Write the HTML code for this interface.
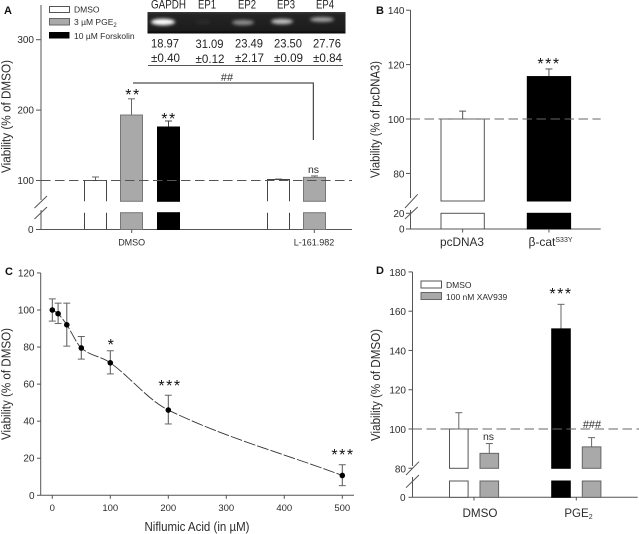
<!DOCTYPE html>
<html lang="en">
<head>
<meta charset="utf-8">
<title>Viability panels</title>
<style>
html,body{margin:0;padding:0;background:#fff;width:639px;height:534px;overflow:hidden}
svg{display:block}
text{font-family:"Liberation Sans",sans-serif;fill:#2c2c2c}
.tick{font-size:10px;text-anchor:end}
.xt{font-size:9.5px;text-anchor:middle}
.letter{font-size:11px;font-weight:bold;fill:#111}
.star{font-size:16px;text-anchor:middle;letter-spacing:1.5px;fill:#111}
.gel{font-size:12px;fill:#222}
.leg{font-size:8.5px}
</style>
</head>
<body>
<svg id="figure" width="639" height="534" viewBox="0 0 639 534" xmlns="http://www.w3.org/2000/svg">
  <defs>
    <linearGradient id="gelBg" x1="0" y1="0" x2="0" y2="1">
      <stop offset="0" stop-color="#3a3a3a"/><stop offset="0.12" stop-color="#242424"/>
      <stop offset="0.85" stop-color="#1c1c1c"/><stop offset="1" stop-color="#050505"/>
    </linearGradient>
    <filter id="blur1" x="-40%" y="-80%" width="180%" height="260%"><feGaussianBlur stdDeviation="1.6"/></filter>
  </defs>

  <text class="letter" x="4" y="14">A</text>
  <text class="letter" x="376" y="14">B</text>
  <text class="letter" x="5" y="275">C</text>
  <text class="letter" x="376" y="274">D</text>

  <g>
    <rect x="147.5" y="12" width="198" height="21.5" fill="url(#gelBg)"/>
    <ellipse cx="163" cy="22" rx="12" ry="3.2" fill="#fff" filter="url(#blur1)"/>
    <ellipse cx="203" cy="22" rx="8" ry="2" fill="#2c2c2c" filter="url(#blur1)"/>
    <ellipse cx="243" cy="22.5" rx="11" ry="2.6" fill="#8e8e8e" filter="url(#blur1)"/>
    <ellipse cx="282" cy="21.5" rx="11" ry="2.6" fill="#c4c4c4" filter="url(#blur1)"/>
    <ellipse cx="322" cy="19.5" rx="12" ry="2.4" fill="#a4a4a4" filter="url(#blur1)"/>
  </g>
  <g>
    <text class="gel" x="151" y="8.5" textLength="35" lengthAdjust="spacingAndGlyphs">GAPDH</text>
    <text class="gel" x="198" y="8.5" textLength="18" lengthAdjust="spacingAndGlyphs">EP1</text>
    <text class="gel" x="238" y="8.5" textLength="18" lengthAdjust="spacingAndGlyphs">EP2</text>
    <text class="gel" x="277" y="8.5" textLength="18" lengthAdjust="spacingAndGlyphs">EP3</text>
    <text class="gel" x="316" y="8.5" textLength="18" lengthAdjust="spacingAndGlyphs">EP4</text>
    <text class="gel" x="151" y="47.5" textLength="28" lengthAdjust="spacingAndGlyphs">18.97</text>
    <text class="gel" x="195.5" y="48" textLength="28" lengthAdjust="spacingAndGlyphs">31.09</text>
    <text class="gel" x="235" y="47.5" textLength="28" lengthAdjust="spacingAndGlyphs">23.49</text>
    <text class="gel" x="274" y="47.5" textLength="28" lengthAdjust="spacingAndGlyphs">23.50</text>
    <text class="gel" x="313" y="47.5" textLength="28" lengthAdjust="spacingAndGlyphs">27.76</text>
    <text class="gel" x="151" y="62" textLength="29" lengthAdjust="spacingAndGlyphs">±0.40</text>
    <text class="gel" x="195.5" y="63" textLength="29" lengthAdjust="spacingAndGlyphs">±0.12</text>
    <text class="gel" x="235" y="62" textLength="29" lengthAdjust="spacingAndGlyphs">±2.17</text>
    <text class="gel" x="274" y="62" textLength="29" lengthAdjust="spacingAndGlyphs">±0.09</text>
    <text class="gel" x="313" y="62" textLength="29" lengthAdjust="spacingAndGlyphs">±0.84</text>
    <line x1="148" y1="65.5" x2="343" y2="65.5" stroke="#555" stroke-width="1"/>
  </g>

  <text transform="translate(10.5,173) rotate(-90)" font-size="12.5" textLength="113" lengthAdjust="spacingAndGlyphs">Viability (% of DMSO)</text>
  <text transform="translate(379.5,178) rotate(-90)" font-size="12.5" textLength="117" lengthAdjust="spacingAndGlyphs">Viability (% of pcDNA3)</text>
  <text transform="translate(10.5,440) rotate(-90)" font-size="12.5" textLength="112" lengthAdjust="spacingAndGlyphs">Viability (% of DMSO)</text>
  <text transform="translate(380,441) rotate(-90)" font-size="12.5" textLength="112" lengthAdjust="spacingAndGlyphs">Viability (% of DMSO)</text>
  <text x="197" y="531" font-size="12.5" text-anchor="middle" textLength="105" lengthAdjust="spacingAndGlyphs">Niflumic Acid (in µM)</text>

  <g>
    <rect x="49.5" y="6.5" width="20" height="6" fill="#fff" stroke="#555"/>
    <text class="leg" x="74" y="12.5">DMSO</text>
    <rect x="49.5" y="18.5" width="20" height="6.5" fill="#a9a9a9" stroke="#666"/>
    <text class="leg" x="74" y="25">3 µM PGE<tspan font-size="6" dy="2">2</tspan></text>
    <rect x="49" y="32" width="20.5" height="6.5" fill="#000"/>
    <text class="leg" x="74" y="39">10 µM Forskolin</text>
  </g>
  <g>
    <rect x="421" y="281" width="20.5" height="7" fill="#fff" stroke="#555"/>
    <text class="leg" x="446" y="288">DMSO</text>
    <rect x="421" y="292.5" width="20.5" height="7" fill="#a9a9a9" stroke="#666"/>
    <text class="leg" x="446" y="300">100 nM XAV939</text>
  </g>

  <g>
    <path d="M133 83H313.3V140" fill="none" stroke="#222" stroke-width="1"/>
    <text x="227" y="81" font-size="11" text-anchor="middle">##</text>
  </g>

  <text class="star" x="133" y="100">**</text>
  <text class="star" x="169" y="124">**</text>
  <text x="313.5" y="173" font-size="10.5" text-anchor="middle">ns</text>
  <text class="star" x="549" y="69">***</text>
  <text class="star" x="111.5" y="350">*</text>
  <text class="star" x="170" y="391">***</text>
  <text class="star" x="343" y="460">***</text>
  <text class="star" x="561" y="299">***</text>
  <text x="488.5" y="440" font-size="10.5" text-anchor="middle">ns</text>
  <text x="592" y="428" font-size="11" text-anchor="middle">###</text>

  <text x="462" y="246" font-size="12" text-anchor="middle" textLength="44" lengthAdjust="spacingAndGlyphs">pcDNA3</text>
  <text x="550.5" y="246" font-size="12" text-anchor="middle">β-cat<tspan font-size="7" dy="-4">S33Y</tspan></text>
  <text x="480" y="517" font-size="12" text-anchor="middle" textLength="35" lengthAdjust="spacingAndGlyphs">DMSO</text>
  <text x="578.5" y="517" font-size="11.5" text-anchor="middle">PGE<tspan font-size="7" dy="2">2</tspan></text>
  <text x="131.7" y="245.5" font-size="9" text-anchor="middle">DMSO</text>
  <text x="314" y="245.5" font-size="9" text-anchor="middle">L-161.982</text>
</svg>

<script>
// Panel A data
var aSeries = ['DMSO', 'PGE2', 'Forskolin', 'L161 DMSO', 'L161 PGE2'];
var aValues = [100, 193, 176, 101.5, 104.5];
var aErrors = [5, 23, 8.5, 0.6, 2];
var aTicks = [100, 200, 300];

// Panel B data
var bSeries = ['pcDNA3', 'beta-cat'];
var bValues = [100, 115.6];
var bErrors = [2.9, 2.8];
var bTicks = [80, 100, 120, 140];
var bLowTicks = [0, 20];

// Panel C data
var cDoses = [0, 10, 25, 50, 100, 200, 500];
var cMeans = [100, 98, 92, 79.5, 71.5, 46, 10.7];
var cUpper = [106, 103.7, 103.7, 85.7, 78, 54, 16.5];
var cLower = [94, 92.7, 80.5, 73.5, 65.5, 38.5, 5.2];
var cXTicks = [0, 100, 200, 300, 400, 500];
var cYTicks = [0, 20, 40, 60, 80, 100, 120];

// Panel D data
var dSeries = ['DMSO', 'DMSO XAV939', 'PGE2', 'PGE2 XAV939'];
var dValues = [100, 87.6, 151, 90.9];
var dErrors = [8.3, 5, 12.5, 4.7];
var dTicks = [80, 100, 120, 140, 160, 180];

var svg = document.getElementById('figure');
var NS = 'http://www.w3.org/2000/svg';
var AXIS = '#555';

function make(tag, attrs, txt) {
  var n = document.createElementNS(NS, tag);
  for (var k in attrs) n.setAttribute(k, attrs[k]);
  if (txt !== undefined) n.textContent = txt;
  svg.appendChild(n);
  return n;
}

function line(name, x1, y1, x2, y2, color, width, dash) {
  var n = make('line', {x1: x1, y1: y1, x2: x2, y2: y2, stroke: color || AXIS, 'stroke-width': width || 1});
  if (dash) n.setAttribute('stroke-dasharray', dash);
  
  
  return n;
}

function tickLabel(name, x, y, label) {
  var n = make('text', {x: x, y: y, 'class': 'tick'}, label);
  
  
  return n;
}

// Two-segment bar either side of an axis break
function brokenBar(name, x0, x1, topY, cfg, fill, stroke, openOutline) {
  var strokeCol = stroke || 'none';
  var up, low;
  if (openOutline) {
    up = make('path', {d: 'M' + x0 + ' ' + cfg.upperBottom + 'V' + topY + 'H' + x1 + 'V' + cfg.upperBottom, fill: fill, stroke: strokeCol});
    low = make('path', {d: 'M' + x0 + ' ' + cfg.lowerTop + 'V' + cfg.base + 'M' + x1 + ' ' + cfg.lowerTop + 'V' + cfg.base, fill: 'none', stroke: strokeCol});
  } else {
    up = make('rect', {x: x0, y: topY, width: x1 - x0, height: cfg.upperBottom - topY, fill: fill, stroke: strokeCol});
    low = make('rect', {x: x0, y: cfg.lowerTop, width: x1 - x0, height: cfg.base - cfg.lowerTop, fill: fill, stroke: strokeCol});
  }
  
  
  
  
}

function errorBar(name, x, yFrom, yTo, color) {
  line('error-stem-' + name, x, yFrom, x, yTo, color);
  line('error-cap-' + name, x - 3.5, yTo, x + 3.5, yTo, color);
}

function brokenAxis(prefix, x, top, upperEnd, lowerStart, base, xEnd, s1, s2) {
  line(prefix + '-y-axis-upper', x, top, x, upperEnd);
  line(prefix + '-y-axis-lower', x, lowerStart, x, base);
  line(prefix + '-x-axis', x, base, xEnd, base);
  line(prefix + '-axis-break-upper', s1[0], s1[1], s1[2], s1[3]);
  line(prefix + '-axis-break-lower', s2[0], s2[1], s2[2], s2[3]);
}

/* ---------- Panel A ---------- */
var aCfg = {upperBottom: 201.3, lowerTop: 212.7, base: 229.5};
function yA(v) { return 180.5 - (v - 100) * 0.704; }
var aBarLeft = [84.5, 120.5, 157.5, 267.5, 303.5];
var aBarW = 22;
var aFills = ['#fff', '#a9a9a9', '#000', '#fff', '#a9a9a9'];
var aStrokes = ['#444', '#777', '#000', '#444', '#777'];
brokenAxis('panel-a', 41, 5, 200, 210, 229.5, 352, [34.5, 208, 47, 196], [34.5, 219, 47, 207]);
aTicks.forEach(function (t) {
  line('panel-a-y-tick-' + t, 36, yA(t), 41, yA(t));
  tickLabel('panel-a-y-label-' + t, 34, yA(t) + 3.5, t);
});
line('panel-a-y-tick-0', 36, 229.5, 41, 229.5);
tickLabel('panel-a-y-label-0', 33.5, 233, 0);
aSeries.forEach(function (s, i) {
  var x0 = aBarLeft[i], x1 = x0 + aBarW, top = yA(aValues[i]), mid = x0 + aBarW / 2;
  errorBar('a-' + i, mid, top, yA(aValues[i] + aErrors[i]), aStrokes[i] === '#000' ? '#444' : '#666');
  brokenBar('a-' + i, x0, x1, top, aCfg, aFills[i], aStrokes[i], aFills[i] === '#fff');
});
line('panel-a-x-tick-dmso', 131.7, 229.5, 131.7, 233);
line('panel-a-x-tick-l161982', 314.3, 229.5, 314.3, 233);
line('panel-a-reference-line', 41, yA(100), 352, yA(100), '#555', 1, '9.5 4.5');

/* ---------- Panel B ---------- */
var bCfg = {upperBottom: 201, lowerTop: 213.3, base: 229};
function yB(v) { return 119 - (v - 100) * 2.72; }
function yBLow(v) { return 229 - v * 0.785; }
var bBarLeft = [441, 527.3];
var bBarW = 43.3;
var bFills = ['#fff', '#000'];
var bStrokes = ['#555', '#000'];
brokenAxis('panel-b', 410.5, 10, 198, 210, 229, 600.7, [405, 208, 417.7, 194.3], [405, 219, 417.7, 207]);
bTicks.forEach(function (t) {
  line('panel-b-y-tick-' + t, 406, yB(t), 410.5, yB(t));
  tickLabel('panel-b-y-label-' + t, 404.5, yB(t) + 4, t);
});
bLowTicks.forEach(function (t) {
  line('panel-b-y-tick-' + t, 406, yBLow(t), 410.5, yBLow(t));
  tickLabel('panel-b-y-label-' + t, 404.5, yBLow(t) + 3.5, t);
});
bSeries.forEach(function (s, i) {
  var x0 = bBarLeft[i], x1 = x0 + bBarW, top = yB(bValues[i]), mid = x0 + bBarW / 2;
  errorBar('b-' + i, mid, top, yB(bValues[i] + bErrors[i]), '#555');
  brokenBar('b-' + i, x0, x1, top, bCfg, bFills[i], bStrokes[i], false);
  line('panel-b-x-tick-' + i, mid, 229, mid, 232.5);
});
line('panel-b-reference-line', 410.5, yB(100), 600.7, yB(100), '#666', 1, '9.5 4.5');

/* ---------- Panel C ---------- */
function xC(v) { return 52.3 + v * 0.58; }
function yC(v) { return 495.3 - v * 1.853; }
line('panel-c-y-axis', 40.7, yC(120), 40.7, yC(0));
line('panel-c-x-axis', 40.7, yC(0), 354, yC(0));
cYTicks.forEach(function (t) {
  line('panel-c-y-tick-' + t, 37, yC(t), 40.7, yC(t));
  tickLabel('panel-c-y-label-' + t, 34.5, yC(t) + 3.5, t);
});
cXTicks.forEach(function (t) {
  line('panel-c-x-tick-' + t, xC(t), yC(0), xC(t), yC(0) + 3.5);
  var lab = make('text', {x: xC(t), y: 511, 'class': 'xt'}, t);
  
  
});
var curve = 'M' + xC(cDoses[0]) + ' ' + yC(cMeans[0]);
for (var i = 0; i < cDoses.length - 1; i++) {
  var p0 = [xC(cDoses[Math.max(i - 1, 0)]), yC(cMeans[Math.max(i - 1, 0)])];
  var p1 = [xC(cDoses[i]), yC(cMeans[i])];
  var p2 = [xC(cDoses[i + 1]), yC(cMeans[i + 1])];
  var p3 = [xC(cDoses[Math.min(i + 2, cDoses.length - 1)]), yC(cMeans[Math.min(i + 2, cDoses.length - 1)])];
  var seg = (p2[0] - p1[0]) / 3;
  var m1 = (p2[1] - p0[1]) / (p2[0] - p0[0]);
  var m2 = (p3[1] - p1[1]) / ((p3[0] - p1[0]) || 1);
  curve += 'C' + (p1[0] + seg) + ' ' + (p1[1] + m1 * seg) + ' ' + (p2[0] - seg) + ' ' + (p2[1] - m2 * seg) + ' ' + p2[0] + ' ' + p2[1];
}
var fit = make('path', {d: curve, fill: 'none', stroke: '#333', 'stroke-width': 0.9, 'stroke-dasharray': '12 2'});


cDoses.forEach(function (d, i) {
  var x = xC(d);
  line('panel-c-error-stem-' + d, x, yC(cUpper[i]), x, yC(cLower[i]), '#555');
  line('panel-c-error-top-' + d, x - 3.5, yC(cUpper[i]), x + 3.5, yC(cUpper[i]), '#666');
  line('panel-c-error-bottom-' + d, x - 3.5, yC(cLower[i]), x + 3.5, yC(cLower[i]), '#666');
  var pt = make('circle', {cx: x, cy: yC(cMeans[i]), r: 2.8, fill: '#000'});
  
  
});

/* ---------- Panel D ---------- */
var dCfg = {upperBottom: 468.3, lowerTop: 481, base: 497.3};
function yD(v) { return 429 - (v - 100) * 1.9633; }
var dBarLeft = [449.5, 480, 551.7, 582.3];
var dBarW = 18.6;
var dFills = ['#fff', '#a9a9a9', '#000', '#a9a9a9'];
var dStrokes = ['#555', '#666', '#000', '#666'];
brokenAxis('panel-d', 412.5, yD(180), 466, 477, 497.3, 637.7, [406, 475, 419, 461.7], [406, 487.7, 419, 475]);
dTicks.forEach(function (t) {
  line('panel-d-y-tick-' + t, 408.5, yD(t), 412.5, yD(t));
  tickLabel('panel-d-y-label-' + t, 406, yD(t) + 4, t);
});
line('panel-d-y-tick-0', 408.5, 497.3, 412.5, 497.3);
tickLabel('panel-d-y-label-0', 405.5, 501, 0);
dSeries.forEach(function (s, i) {
  var x0 = dBarLeft[i], x1 = x0 + dBarW, top = yD(dValues[i]), mid = x0 + dBarW / 2;
  errorBar('d-' + i, mid, top, yD(dValues[i] + dErrors[i]), '#666');
  brokenBar('d-' + i, x0, x1, top, dCfg, dFills[i], dStrokes[i], false);
});
line('panel-d-x-tick-dmso', 474, 497.3, 474, 500.5);
line('panel-d-x-tick-pge2', 576.3, 497.3, 576.3, 500.5);
line('panel-d-reference-line', 412.5, yD(100), 639, yD(100), '#666', 1, '9.5 4.5');
</script>
</body>
</html>
